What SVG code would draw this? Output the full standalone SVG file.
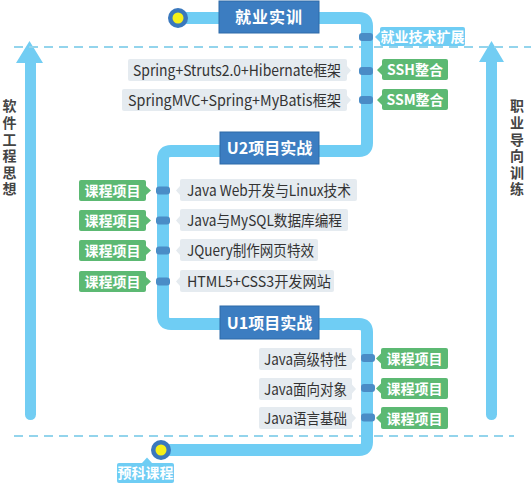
<svg xmlns="http://www.w3.org/2000/svg" width="531" height="486" viewBox="0 0 531 486">
<style>
.track{fill:none;stroke:#6fcdf4;stroke-width:12;stroke-linejoin:round}
.arrow{fill:#72cdf3}
.dash{fill:none;stroke:#93d4ec;stroke-width:2;stroke-dasharray:9 6}
.title rect{fill:#3c7dc1;stroke:#2d6aa8;stroke-width:1}
.title text{fill:#fff;font-family:"Noto Sans CJK SC",sans-serif;font-weight:bold;font-size:16px;text-anchor:middle}
.port{fill:#4a8cc6}
.green{fill:#5cb973}
.gt{fill:#fff;font-family:"Noto Sans CJK SC",sans-serif;font-weight:bold;font-size:14px;text-anchor:middle}
.gray{fill:#e5ebf0}
.tt{fill:#333;font-family:"Noto Sans CJK SC",sans-serif;font-size:15px}
.lb{fill:#6fcdf4}
.side{fill:#444;font-family:"Noto Sans CJK SC",sans-serif;font-weight:bold;font-size:14px;writing-mode:vertical-rl;letter-spacing:2.6px}
</style>

<!-- side arrows -->
<g id="left-arrow">
<polygon class="arrow" points="29.5,41 16,63 25,63 25,415 36,415 36,63 43,63"/>
<rect class="arrow" x="25" y="405" width="11" height="15" rx="5.5"/>
<text class="side" x="9.5" y="99">软件工程思想</text>
</g>
<g id="right-arrow">
<polygon class="arrow" points="491.5,41 479,62 486,62 486,415 497,415 497,62 504,62"/>
<rect class="arrow" x="486" y="405" width="11" height="15" rx="5.5"/>
<text class="side" x="517" y="99">职业导向训练</text>
</g>

<g id="dashed-lines">
<line class="dash" x1="14" y1="47" x2="531" y2="47"/>
<line class="dash" x1="14" y1="436" x2="514" y2="436"/>
</g>

<g id="connectors">
<path class="track" d="M178,18 H359 Q367,18 367,26 V143 Q367,151 359,151 H171 Q163,151 163,159 V316 Q163,324 171,324 H359 Q367,324 367,332 V442 Q367,450 359,450 H161"/>
</g>

<!-- end circles -->
<g id="start-top">
<circle cx="178" cy="18" r="10" fill="#3a78bd"/>
<circle cx="178" cy="18" r="5.5" fill="#f5f019"/>
</g>
<g id="start-bottom">
<circle cx="161" cy="450" r="10" fill="#3a78bd"/>
<circle cx="161" cy="450" r="5.5" fill="#f5f019"/>
</g>

<!-- titles -->
<g id="jiuye" class="title"><rect x="219" y="1" width="100" height="32"/><text x="269" y="23" letter-spacing="1">就业实训</text></g>
<g id="u2" class="title"><rect x="220" y="132" width="99" height="32"/><text x="269.5" y="154">U2项目实战</text></g>
<g id="u1" class="title"><rect x="220" y="306" width="99" height="33"/><text x="269.5" y="328.5">U1项目实战</text></g>

<!-- 就业技术扩展 -->
<g id="jishu">
<rect class="port" x="359" y="33" width="14" height="8" rx="3"/>
<rect class="lb" x="380" y="27" width="85" height="19" rx="2"/>
<polygon class="lb" points="380,32 375,37 380,42"/>
<text class="gt" x="422.5" y="41.5" font-size="13">就业技术扩展</text>
</g>

<!-- SSH -->
<g id="ssh">
<rect class="gray" x="128" y="59" width="219" height="22" rx="2"/>
<polygon class="gray" points="347,66 351,70.5 347,75"/>
<text class="tt" x="341" y="75.5" text-anchor="end" textLength="208" lengthAdjust="spacingAndGlyphs">Spring+Struts2.0+Hibernate框架</text>
<rect class="port" x="359" y="67" width="14" height="8" rx="3"/>
<rect class="green" x="382" y="59" width="66" height="21" rx="2"/>
<polygon class="green" points="382,65 377,70 382,75"/>
<text class="gt" x="415" y="75">SSH整合</text>
</g>

<!-- SSM -->
<g id="ssm">
<rect class="gray" x="122" y="89" width="225" height="22" rx="2"/>
<polygon class="gray" points="347,95.5 351,100 347,104.5"/>
<text class="tt" x="341" y="105.5" text-anchor="end" textLength="213" lengthAdjust="spacingAndGlyphs">SpringMVC+Spring+MyBatis框架</text>
<rect class="port" x="359" y="96" width="14" height="8" rx="3"/>
<rect class="green" x="382" y="89" width="66" height="21" rx="2"/>
<polygon class="green" points="382,95 377,100 382,105"/>
<text class="gt" x="415" y="105">SSM整合</text>
</g>

<!-- U2 rows -->
<g id="u2-row1">
<rect class="green" x="79" y="180" width="67" height="21" rx="2"/>
<polygon class="green" points="146,186 151,190.5 146,195"/>
<text class="gt" x="112.5" y="196">课程项目</text>
<rect class="port" x="156" y="186.5" width="14" height="8" rx="3"/>
<rect class="gray" x="180" y="179" width="177" height="22" rx="2"/>
<polygon class="gray" points="180,186 176,190.5 180,195"/>
<text class="tt" x="187" y="196" textLength="164" lengthAdjust="spacingAndGlyphs">Java Web开发与Linux技术</text>
</g>
<g id="u2-row2">
<rect class="green" x="79" y="210" width="67" height="21" rx="2"/>
<polygon class="green" points="146,216 151,220.5 146,225"/>
<text class="gt" x="112.5" y="226">课程项目</text>
<rect class="port" x="156" y="216.5" width="14" height="8" rx="3"/>
<rect class="gray" x="180" y="209" width="168" height="22" rx="2"/>
<polygon class="gray" points="180,216 176,220.5 180,225"/>
<text class="tt" x="187" y="226" textLength="155" lengthAdjust="spacingAndGlyphs">Java与MySQL数据库编程</text>
</g>
<g id="u2-row3">
<rect class="green" x="79" y="240" width="67" height="21" rx="2"/>
<polygon class="green" points="146,246 151,250.5 146,255"/>
<text class="gt" x="112.5" y="256">课程项目</text>
<rect class="port" x="156" y="246.5" width="14" height="8" rx="3"/>
<rect class="gray" x="180" y="239" width="138" height="22" rx="2"/>
<polygon class="gray" points="180,246 176,250.5 180,255"/>
<text class="tt" x="187" y="256" textLength="127" lengthAdjust="spacingAndGlyphs">JQuery制作网页特效</text>
</g>
<g id="u2-row4">
<rect class="green" x="79" y="271" width="67" height="21" rx="2"/>
<polygon class="green" points="146,277 151,281.5 146,286"/>
<text class="gt" x="112.5" y="287">课程项目</text>
<rect class="port" x="156" y="277.5" width="14" height="8" rx="3"/>
<rect class="gray" x="180" y="270" width="154" height="22" rx="2"/>
<polygon class="gray" points="180,277 176,281.5 180,286"/>
<text class="tt" x="187" y="287" textLength="144" lengthAdjust="spacingAndGlyphs">HTML5+CSS3开发网站</text>
</g>

<!-- U1 rows -->
<g id="u1-row1">
<rect class="gray" x="259" y="348" width="93" height="22" rx="2"/>
<polygon class="gray" points="352,354.5 356,359 352,363.5"/>
<text class="tt" x="347" y="364.5" text-anchor="end" textLength="83" lengthAdjust="spacingAndGlyphs">Java高级特性</text>
<rect class="port" x="361" y="354" width="14" height="8" rx="3"/>
<rect class="green" x="381" y="348" width="67" height="21" rx="2"/>
<polygon class="green" points="381,353.5 376,358.5 381,363.5"/>
<text class="gt" x="414.5" y="364">课程项目</text>
</g>
<g id="u1-row2">
<rect class="gray" x="259" y="378" width="93" height="22" rx="2"/>
<polygon class="gray" points="352,384.5 356,389 352,393.5"/>
<text class="tt" x="347" y="394.5" text-anchor="end" textLength="83" lengthAdjust="spacingAndGlyphs">Java面向对象</text>
<rect class="port" x="361" y="384" width="14" height="8" rx="3"/>
<rect class="green" x="381" y="378" width="67" height="21" rx="2"/>
<polygon class="green" points="381,383.5 376,388.5 381,393.5"/>
<text class="gt" x="414.5" y="394">课程项目</text>
</g>
<g id="u1-row3">
<rect class="gray" x="259" y="407" width="93" height="22" rx="2"/>
<polygon class="gray" points="352,413.5 356,418 352,422.5"/>
<text class="tt" x="347" y="423.5" text-anchor="end" textLength="83" lengthAdjust="spacingAndGlyphs">Java语言基础</text>
<rect class="port" x="361" y="413.5" width="14" height="8" rx="3"/>
<rect class="green" x="381" y="407" width="67" height="22" rx="2"/>
<polygon class="green" points="381,413 376,418 381,423"/>
<text class="gt" x="414.5" y="423.5">课程项目</text>
</g>

<!-- 预科课程 -->
<g id="yuke">
<rect class="lb" x="117" y="463" width="57" height="20" rx="2"/>
<polygon class="lb" points="142,463 147,457.5 152,463"/>
<text class="gt" x="145.5" y="478" font-size="13">预科课程</text>
</g>
</svg>
